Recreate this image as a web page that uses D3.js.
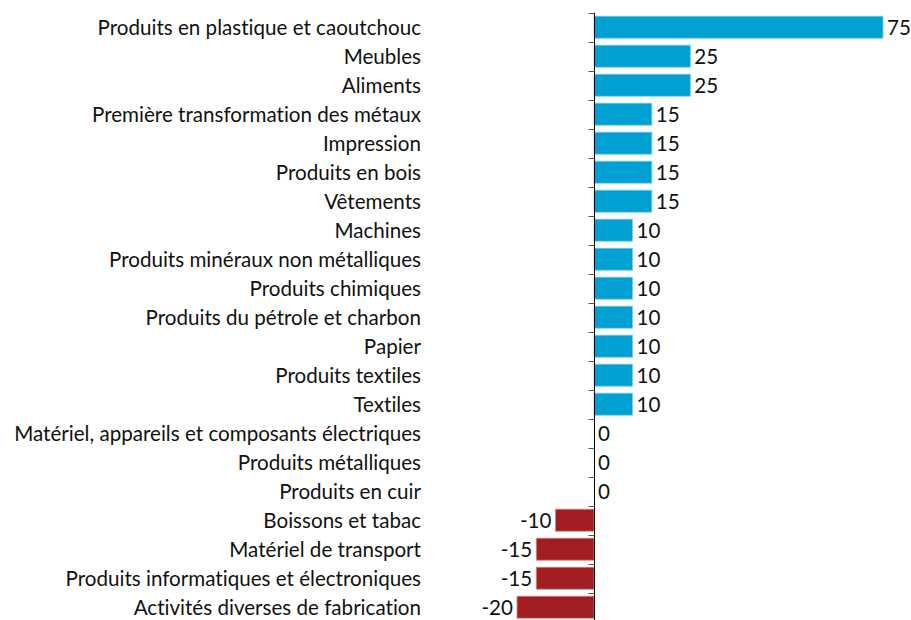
<!DOCTYPE html>
<html><head><meta charset="utf-8">
<script src="https://cdn.jsdelivr.net/npm/d3@7"></script>
<style>body{margin:0;background:#fff}svg{display:block}text{font-variant-ligatures:none;font-feature-settings:"liga" 0,"clig" 0}</style>
</head><body>
<script>
const categories = [
  "Produits en plastique et caoutchouc","Meubles","Aliments","Première transformation des métaux",
  "Impression","Produits en bois","Vêtements","Machines","Produits minéraux non métalliques",
  "Produits chimiques","Produits du pétrole et charbon","Papier","Produits textiles","Textiles",
  "Matériel, appareils et composants électriques","Produits métalliques","Produits en cuir",
  "Boissons et tabac","Matériel de transport","Produits informatiques et électroniques",
  "Activités diverses de fabrication"
];
const values = [75,25,25,15,15,15,15,10,10,10,10,10,10,10,0,0,0,-10,-15,-15,-20];

(function () {
const W = 911, H = 620;
const font = "Lato, 'Open Sans', sans-serif";
const fs = 20.6;
const svg = d3.select("body").append("svg").attr("width", W).attr("height", H);

const x = d3.scaleLinear().domain([-20, 75]).range([517, 883]);
const y = d3.scaleBand().domain(categories).range([12.7, 12.7 + 29 * categories.length]).paddingInner(0.24).paddingOuter(0.12);

svg.append("g").selectAll("rect").data(categories).join("rect")
  .attr("x", (d, i) => x(Math.min(0, values[i])))
  .attr("width", (d, i) => Math.abs(x(values[i]) - x(0)))
  .attr("y", d => y(d))
  .attr("height", y.bandwidth())
  .attr("fill", (d, i) => values[i] >= 0 ? "#00A0D2" : "#A11D21")
  .attr("stroke", (d, i) => values[i] >= 0 ? "#7fcde8" : "#d08e90")
  .attr("stroke-width", 0.8);

svg.append("g").selectAll("text").data(categories).join("text")
  .attr("x", 421).attr("y", d => y(d) + y.bandwidth() / 2)
  .attr("text-anchor", "end").attr("dominant-baseline", "central")
  .attr("font-family", font).attr("font-size", fs).attr("fill", "#111")
  .text(d => d);

svg.append("g").selectAll("text").data(categories).join("text")
  .attr("x", (d, i) => values[i] >= 0 ? x(values[i]) + 4 : x(values[i]) - 4)
  .attr("y", d => y(d) + y.bandwidth() / 2)
  .attr("text-anchor", (d, i) => values[i] >= 0 ? "start" : "end")
  .attr("dominant-baseline", "central")
  .attr("font-family", font).attr("font-size", fs).attr("fill", "#111")
  .text((d, i) => values[i]);

const x0 = Math.round(x(0)) + 0.5;
const step = y.step();
const y0 = y.range()[0];
const bounds = d3.range(categories.length + 1).map(i => y0 + i * step);
svg.append("line").attr("x1", x0).attr("x2", x0).attr("y1", y0).attr("y2", H)
  .attr("stroke", "#000").attr("stroke-width", 1);
svg.append("g").selectAll("line").data(bounds).join("line")
  .attr("x1", x0 - 6).attr("x2", x0).attr("y1", d => Math.round(d) + 0.5).attr("y2", d => Math.round(d) + 0.5)
  .attr("stroke", "#555").attr("stroke-width", 1);
})();
</script>
</body></html>
